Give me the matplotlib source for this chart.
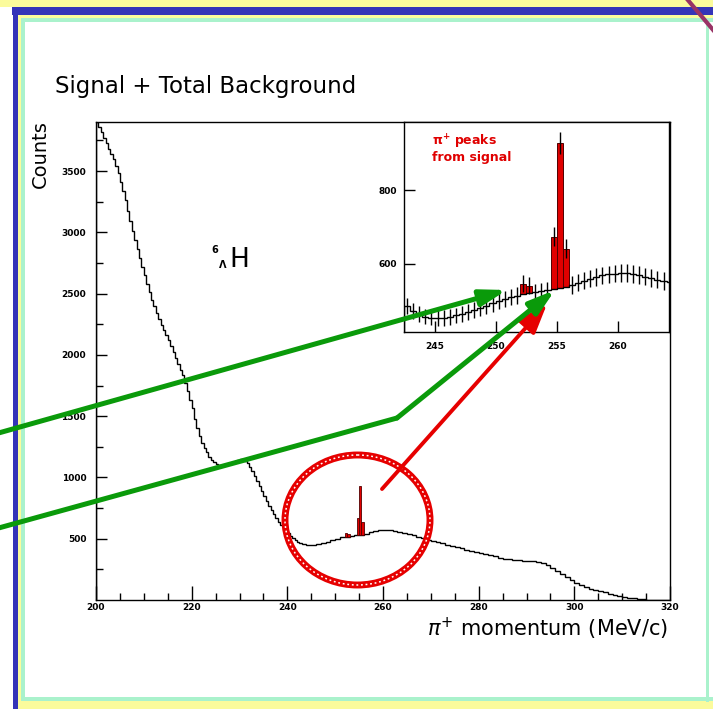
import numpy as np
import matplotlib.pyplot as plt
from matplotlib.patches import Ellipse, Rectangle

# main histogram: total background
# steep part, 0.5 MeV bins from 200 MeV/c
fine_start = 200.0
fine_counts = [3900, 3860, 3815, 3770, 3725, 3680, 3640, 3595, 3545, 3480,
               3410, 3340, 3260, 3175, 3090, 3010, 2940, 2865, 2790, 2715,
               2650, 2580, 2515, 2450, 2395, 2340, 2295, 2245, 2205, 2160,
               2125, 2075, 2025, 1975, 1925, 1875, 1835, 1770, 1705, 1635,
               1565, 1480, 1405, 1340, 1285, 1240, 1205, 1170, 1145, 1125,
               1112, 1105, 1100, 1100, 1103, 1110, 1118, 1128, 1138, 1145,
               1150, 1148, 1138, 1115, 1085, 1050, 1012, 972, 930, 890,
               850, 810, 770, 735, 700, 670, 640, 615, 590, 567,
               545, 525, 505, 490, 475, 465, 458, 453, 450, 450]
# rest, 1 MeV bins
coarse_counts = [452, 458, 466, 476, 488,
                 500, 510, 518, 524, 528, 532, 540, 552, 563, 571,
                 575, 572, 565, 556, 548, 540, 530, 518, 505, 492,
                 480, 470, 461, 451, 441, 431, 421, 412, 403, 394,
                 385, 375, 365, 355, 345, 338, 332, 328, 325, 322,
                 320, 318, 312, 300, 282, 262, 240, 215, 190, 165,
                 142, 122, 105, 92, 82, 72, 62, 52, 42, 32,
                 25, 20, 16, 12, 8, 4, 2, 0, 0, 0]

# zoomed background, 0.5 MeV bins from 242.5 MeV/c
zoom_start = 242.5
zoom_bg = [485, 470, 462, 456, 453, 452, 452, 455, 459, 464,
           469, 474, 480, 486, 492, 498, 504, 509, 513, 517,
           520, 523, 525, 528, 530, 533, 537, 542, 548, 554,
           559, 564, 568, 571, 573, 574, 574, 572, 569, 565,
           561, 557, 553, 549]

# signal excess (0.5 MeV bins)
sig_left = [252.0, 252.5, 254.5, 255.0, 255.5]
sig_excess = [29, 20, 144, 396, 104]

main_xticks = [200, 220, 240, 260, 280, 300, 320]
main_yticks = [500, 1000, 1500, 2000, 2500, 3000, 3500]
zoom_xticks = [245, 250, 255, 260]
zoom_yticks = [600, 800]

W, H = 713, 709
fig = plt.figure(figsize=(W / 100, H / 100), dpi=100)
fig.patch.set_facecolor('white')

tickfont = dict(fontsize=6.5, fontweight='bold')

# ---- main plot
ax = fig.add_axes([96 / W, 1 - 600 / H, (670 - 96) / W, (600 - 122) / H])
fine_edges = fine_start + 0.5 * np.arange(len(fine_counts) + 1)
coarse_start = fine_edges[-1]
coarse_edges = coarse_start + np.arange(1, len(coarse_counts) + 1)
edges = np.concatenate([fine_edges, coarse_edges])
counts = np.array(fine_counts + coarse_counts)
ax.stairs(counts, edges, color='black', lw=1)
for x0, ex in zip(sig_left, sig_excess):
    b = coarse_counts[int(x0 - coarse_start)]
    ax.bar(x0, ex, width=0.5, bottom=b, align='edge', color='#e00000',
           edgecolor='#500000', lw=0.6, zorder=3)
ax.set_xlim(200, 320)
ax.set_ylim(0, 3900)
ax.set_xticks(main_xticks)
ax.set_xticks(np.arange(200, 321, 5), minor=True)
ax.set_yticks(main_yticks)
ax.set_yticks(np.arange(250, 3900, 250), minor=True)
ax.set_xticklabels([str(v) for v in main_xticks], **tickfont)
ax.set_yticklabels([str(v) for v in main_yticks], **tickfont)
ax.tick_params(axis='both', which='major', direction='in', length=8, width=1)
ax.tick_params(axis='both', which='minor', direction='in', length=5, width=1)
ax.tick_params(axis='x', which='major', pad=2, length=10)
ax.tick_params(axis='y', which='major', pad=7)
for s in ax.spines.values():
    s.set_linewidth(1)

# ---- inset
axi = fig.add_axes([404 / W, 1 - 332 / H, (669 - 404) / W, (332 - 122) / H])
zedges = zoom_start + 0.5 * np.arange(len(zoom_bg) + 1)
zbg = np.array(zoom_bg, dtype=float)
total = zbg.copy()
for x0, ex in zip(sig_left, sig_excess):
    i = int(round((x0 - zoom_start) / 0.5))
    total[i] += ex
    axi.bar(x0, ex, width=0.5, bottom=zbg[i], align='edge', color='#e00000',
            edgecolor='#500000', lw=0.7, zorder=2)
axi.stairs(zbg, zedges, color='black', lw=1, zorder=3)
centers = zedges[:-1] + 0.25
axi.errorbar(centers, total, yerr=np.sqrt(total), fmt='none', ecolor='black',
             elinewidth=1, zorder=4)
axi.set_xlim(242.5, 264.2)
axi.set_ylim(414, 986)
axi.set_xticks(zoom_xticks)
axi.set_yticks(zoom_yticks)
axi.set_xticklabels([str(v) for v in zoom_xticks], **tickfont)
axi.set_yticklabels([str(v) for v in zoom_yticks], **tickfont)
axi.tick_params(axis='both', direction='in', length=8, width=1)
axi.tick_params(axis='x', pad=7)
axi.tick_params(axis='y', pad=5)
for s in axi.spines.values():
    s.set_linewidth(1)
axi.text(0.106, 0.95, '$\\mathbf{\\pi^{+}}$ peaks\nfrom signal', transform=axi.transAxes,
         color='#e00000', fontsize=9, fontweight='bold', va='top', ha='left',
         linespacing=1.05)

# ---- overlay in pixel coordinates (slide decorations and annotations)
ov = fig.add_axes([0, 0, 1, 1], zorder=10)
ov.set_xlim(0, W)
ov.set_ylim(H, 0)
ov.axis('off')
ov.patch.set_alpha(0)

yellow = '#fbfb9c'
blue = '#3434b8'
mint = '#aaf2cc'
ov.add_patch(Rectangle((0, 0), W, 6.5, color=yellow, lw=0))
ov.add_patch(Rectangle((12, 6.5), W, 8, color=blue, lw=0))
ov.add_patch(Rectangle((17, 14.5), W, 3, color=yellow, lw=0))
ov.add_patch(Rectangle((20, 17.5), W, 4.5, color=mint, lw=0))
ov.add_patch(Rectangle((12.5, 6.5), 5, H, color=blue, lw=0))
ov.add_patch(Rectangle((17.5, 14.5), 3.5, H, color=yellow, lw=0))
ov.add_patch(Rectangle((21, 17.5), 4, 684, color=mint, lw=0))
ov.add_patch(Rectangle((21, 697), W, 4, color=mint, lw=0))
ov.add_patch(Rectangle((17.5, 701), W, 8, color=yellow, lw=0))
ov.add_patch(Rectangle((706, 17.5), 3, 684, color=mint, lw=0))
ov.plot([687, 714], [-1, 31], color='#993366', lw=3)

ov.text(55, 86, 'Signal + Total Background', fontsize=16.5, va='center', ha='left')
ov.text(40, 154, 'Counts', fontsize=14, rotation=90, va='center', ha='center')
ov.text(668, 629, '$\\pi^{+}$ momentum (MeV/c)', fontsize=15, va='center', ha='right')
ov.text(229, 267, 'H', fontsize=19, va='baseline', ha='left')
ov.text(211, 253, '6', fontsize=7, fontweight='bold', va='baseline', ha='left')
ov.text(218, 268, '$\\mathbf{\\Lambda}$', fontsize=7, va='baseline', ha='left')

green = '#0a9a0a'
red = '#e60000'
ov.add_patch(Ellipse((357.5, 520), 145, 130, fill=False, ec=red, lw=5))
ov.add_patch(Ellipse((357.5, 520), 145, 130, fill=False, ec='white', lw=1.1,
                     ls=(0, (1.2, 1.8))))
ov.annotate('', xy=(547, 304), xytext=(382, 489),
            arrowprops=dict(arrowstyle='-|>,head_length=1.5,head_width=0.55',
                            color=red, lw=2.8, shrinkA=0, shrinkB=0,
                            mutation_scale=12))
ov.annotate('', xy=(507, 290), xytext=(-5, 434),
            arrowprops=dict(arrowstyle='-|>,head_length=1.3,head_width=0.4',
                            color=green, lw=3.6, shrinkA=0, shrinkB=0,
                            mutation_scale=12))
ov.plot([-5, 397], [529, 418], color=green, lw=3.6, solid_capstyle='round')
ov.annotate('', xy=(555, 290), xytext=(397, 418),
            arrowprops=dict(arrowstyle='-|>,head_length=1.3,head_width=0.4',
                            color=green, lw=3.6, shrinkA=0, shrinkB=0,
                            mutation_scale=12))

fig.savefig('out.png', dpi=100)
